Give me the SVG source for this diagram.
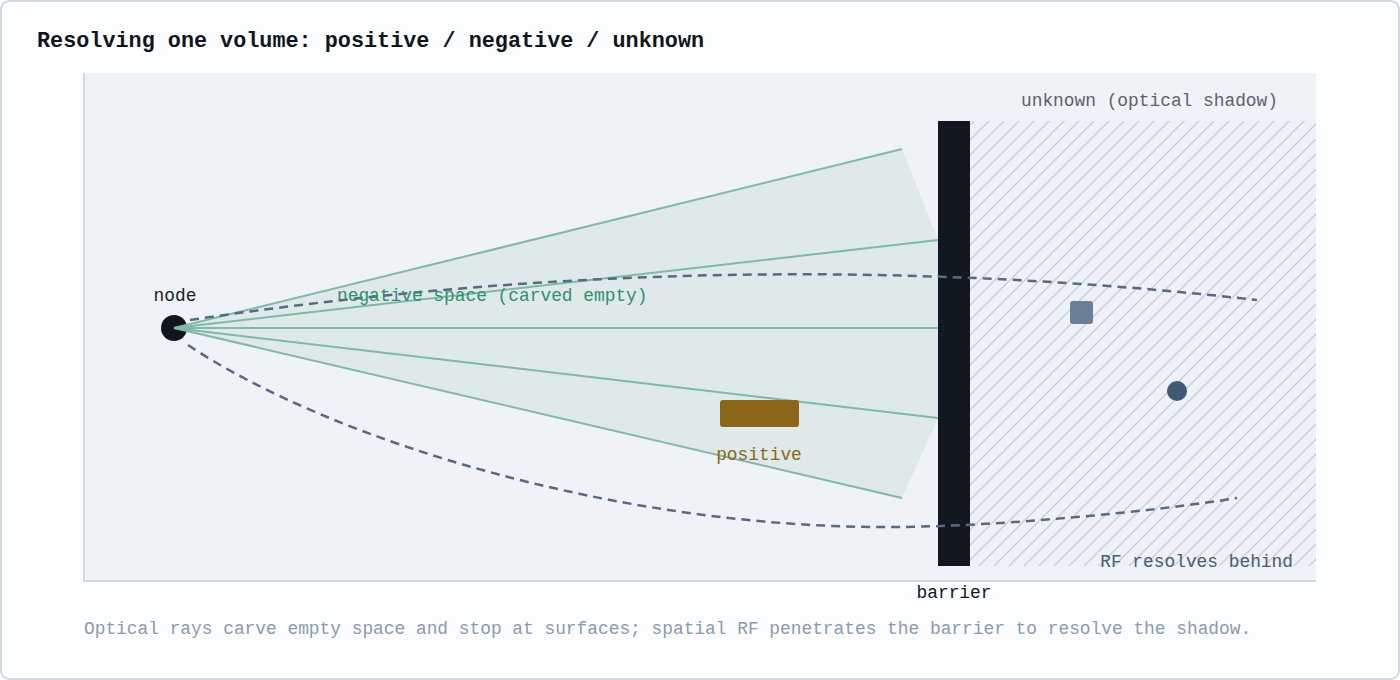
<svg xmlns="http://www.w3.org/2000/svg" width="1400" height="680" viewBox="0 0 1400 680">
  <style>
    .mono { font-family: "Liberation Mono", "DejaVu Sans Mono", monospace; font-size: 17.85px; }
    .title { font-family: "Liberation Mono", "DejaVu Sans Mono", monospace; font-size: 21.8px; font-weight: bold; fill: #11161e; }
    .ray { stroke: #80b9a7; stroke-width: 2; fill: none; }
    .rf { stroke: #566b82; stroke-width: 2.5; fill: none; stroke-dasharray: 9 6; }
  </style>
  <defs>
    <pattern id="hatch" patternUnits="userSpaceOnUse" width="15" height="15">
      <path d="M0,15 L15,0 M-3,3 L3,-3 M12,18 L18,12" stroke="#c6ccd9" stroke-width="1.3"/>
    </pattern>
  </defs>

  <rect x="1" y="1" width="1398" height="678" rx="8" fill="#fcfdfe" stroke="#d3d8df" stroke-width="2"/>
  <text class="title" x="37" y="47">Resolving one volume: positive / negative / unknown</text>

  <g id="panel">
    <rect x="84" y="73" width="1232" height="508" fill="#eff2f6"/>
    <line x1="84" y1="73" x2="84" y2="582" stroke="#d3d8e0" stroke-width="2"/>
    <line x1="84" y1="581" x2="1316" y2="581" stroke="#d3d8e0" stroke-width="2"/>
  </g>

  <g id="shadow">
    <rect x="970" y="121" width="346" height="445" fill="#eef1f7"/>
    <rect x="970" y="121" width="346" height="445" fill="url(#hatch)"/>
    <text class="mono" x="1278" y="106" text-anchor="end" fill="#5b6371">unknown (optical shadow)</text>
    <text class="mono" x="1293" y="567" text-anchor="end" fill="#4a5d70">RF resolves behind</text>
  </g>

  <g id="node">
    <circle cx="174" cy="328" r="13" fill="#11161e"/>
    <text class="mono" x="175" y="301" text-anchor="middle" fill="#1a1f26">node</text>
  </g>

  <g id="negative-space">
    <polygon points="174,328 902,149 938,240 938,418 902,498" fill="#dfe9ea"/>
  </g>

  <g id="barrier">
    <rect x="938" y="121" width="32" height="445" fill="#121820"/>
    <text class="mono" x="954" y="598" text-anchor="middle" fill="#11161e">barrier</text>
  </g>

  <g id="connectors">
    <line class="ray" x1="174" y1="328" x2="902" y2="149"/>
    <line class="ray" x1="174" y1="328" x2="938" y2="240"/>
    <line class="ray" x1="174" y1="328" x2="938" y2="328"/>
    <line class="ray" x1="174" y1="328" x2="938" y2="418"/>
    <line class="ray" x1="174" y1="328" x2="902" y2="498"/>
    <path class="rf" d="M190,320 Q725,240 1257,300"/>
    <path class="rf" d="M188,345 C330,440 620,530 900,527 C1000,526 1150,512 1237,498"/>
  </g>

  <text class="mono" x="337" y="301" fill="#2f8f6f">negative space (carved empty)</text>

  <g id="positive">
    <rect x="720" y="400" width="79" height="27" rx="3" fill="#8b6619"/>
    <text class="mono" x="759" y="460" text-anchor="middle" fill="#8b6619">positive</text>
  </g>

  <g id="hidden-box">
    <rect x="1070" y="301" width="23" height="23" rx="3" fill="#6b8096"/>
  </g>
  <g id="hidden-dot">
    <circle cx="1177" cy="391" r="10" fill="#3d5a76"/>
  </g>

  <text class="mono" x="84" y="634" fill="#8a9bb0">Optical rays carve empty space and stop at surfaces; spatial RF penetrates the barrier to resolve the shadow.</text>
</svg>
